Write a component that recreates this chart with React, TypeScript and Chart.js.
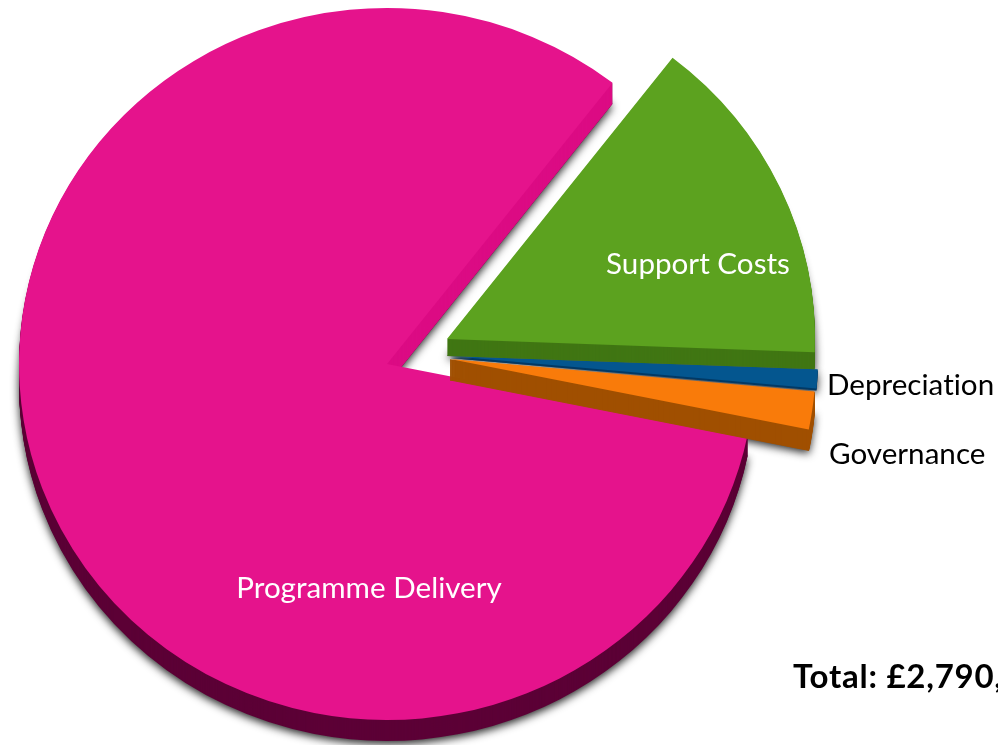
import { useEffect, useRef } from "react";
import { Chart, registerables } from "chart.js";

Chart.register(...registerables);

const categories = ["Support Costs", "Depreciation", "Governance", "Programme Delivery"];
const amounts = [421000, 24000, 48000, 2297000];
const totalLabel = "Total: £2,790,000";

const faceColors = ["#5ca21f", "#04568f", "#f97b0a", "#e5138c"];
const wallColors = ["#407613", "#023a66", "#a05000", "#5c0036"];
const innerWallColor = "#dc0c84";

// Tip of each exploded wedge on the canvas, its tilted radius and its wall thickness.
const wedgeTips = [
  { x: 447, y: 339, rx: 368, depth: 17 },
  { x: 450, y: 356, rx: 368, depth: 2 },
  { x: 450, y: 359, rx: 366, depth: 21 },
  { x: 387, y: 364, rx: 368, depth: 21 },
];
const tiltRadiusY = 356;
const paintOrder = [3, 2, 1, 0];

const captions = [
  { text: "Programme Delivery", x: 369, y: 588, color: "#ffffff", font: "29.6px Lato", align: "center" },
  { text: "Support Costs", x: 698, y: 264, color: "#ffffff", font: "29.6px Lato", align: "center" },
  { text: "Depreciation", x: 827, y: 385, color: "#000000", font: "29.6px Lato", align: "left" },
  { text: "Governance", x: 829, y: 454, color: "#000000", font: "29.6px Lato", align: "left" },
  { text: totalLabel, x: 793, y: 677, color: "#000000", font: "bold 33px Lato", align: "left", spacing: "0.75px" },
];

const arcOptions = (backgroundColor: string, edge: number) => ({
  backgroundColor,
  borderColor: backgroundColor,
  borderWidth: edge,
  borderAlign: "center",
  borderJoinStyle: "round",
  borderRadius: 0,
  borderDash: [],
  borderDashOffset: 0,
  offset: 0,
  spacing: 0,
  circular: true,
  selfJoin: false,
});

// Paints one library arc with the tilt, the explode shift and an extra drop applied.
function paintArc(ctx: CanvasRenderingContext2D, arc: any, index: number, color: string, drop: number, edge = 0) {
  const tip = wedgeTips[index];
  const saved = arc.options;
  arc.options = arcOptions(color, edge);
  ctx.save();
  ctx.translate(tip.x, tip.y + drop);
  ctx.scale(tip.rx / arc.outerRadius, tiltRadiusY / arc.outerRadius);
  ctx.translate(-arc.x, -arc.y);
  arc.draw(ctx);
  ctx.restore();
  arc.options = saved;
}

const tiltedPie = {
  id: "tiltedPie",
  beforeDatasetsDraw(chart: any) {
    const ctx: CanvasRenderingContext2D = chart.ctx;
    const arcs = chart.getDatasetMeta(0).data;

    // Soft shadow under every wedge, laid down first so it only falls on the page.
    ctx.save();
    ctx.shadowColor = "rgba(0,0,0,0.85)";
    ctx.shadowBlur = 9;
    ctx.shadowOffsetY = 3;
    paintOrder.forEach((i) => paintArc(ctx, arcs[i], i, "#666666", wedgeTips[i].depth));
    ctx.restore();

    paintOrder.forEach((i) => {
      const tip = wedgeTips[i];
      // The narrow wedge tip needs a hairline edge so its wall stays solid.
      const edge = i === 2 ? 1 : 0;
      for (let d = tip.depth; d > 0; d--) paintArc(ctx, arcs[i], i, wallColors[i], d, edge);
      if (i === 3) {
        // The cut face of the large wedge is lit, unlike its outer rim.
        ctx.save();
        ctx.beginPath();
        ctx.rect(tip.x, 0, chart.width - tip.x, tip.y + 8);
        ctx.clip();
        for (let d = tip.depth; d > 0; d--) paintArc(ctx, arcs[i], i, innerWallColor, d);
        ctx.restore();
      }
      paintArc(ctx, arcs[i], i, faceColors[i], 0);
    });
    return false;
  },
  afterDraw(chart: any) {
    const ctx: any = chart.ctx;
    ctx.save();
    ctx.textBaseline = "middle";
    captions.forEach((c) => {
      ctx.font = c.font;
      // Any non-zero spacing also switches off Lato's "ti" ligature.
      ctx.letterSpacing = c.spacing ?? "0.01px";
      ctx.fillStyle = c.color;
      ctx.textAlign = c.align;
      ctx.fillText(c.text, c.x, c.y);
    });
    ctx.restore();
  },
};

export default function App() {
  const ref = useRef<HTMLCanvasElement>(null);
  useEffect(() => {
    const chart = new Chart(ref.current!, {
      type: "pie",
      data: {
        labels: categories,
        datasets: [{ data: amounts, backgroundColor: faceColors, borderWidth: 0, hoverOffset: 0 }],
      },
      options: {
        animation: false,
        responsive: false,
        events: [],
        rotation: 37.8,
        layout: { padding: 0 },
        plugins: { legend: { display: false }, tooltip: { enabled: false } },
      },
      plugins: [tiltedPie],
    } as any);
    return () => chart.destroy();
  }, []);
  return (
    <canvas
      ref={ref}
      width={998}
      height={745}
      style={{ position: "fixed", left: 0, top: 0, width: 998, height: 745, display: "block" }}
    />
  );
}
